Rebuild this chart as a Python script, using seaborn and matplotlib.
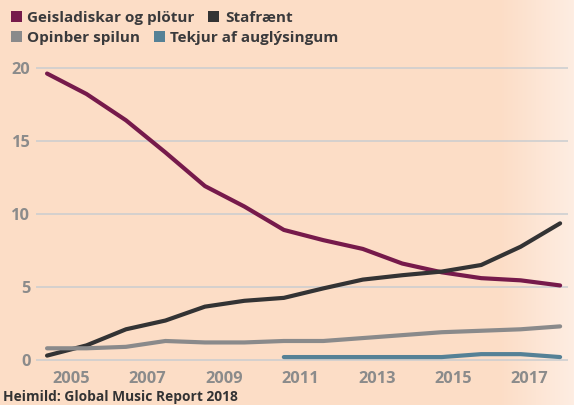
import numpy as np
import pandas as pd
import seaborn as sns
import matplotlib.pyplot as plt
from matplotlib.patches import Patch

# values (billion USD)
years = list(range(2004, 2018))
geisladiskar = [19.6, 18.2, 16.4, 14.2, 11.9, 10.5, 8.9, 8.2, 7.6, 6.6, 6.0, 5.6, 5.45, 5.1]
stafraent = [0.3, 1.0, 2.1, 2.7, 3.65, 4.05, 4.25, 4.9, 5.5, 5.8, 6.05, 6.5, 7.75, 9.35]
opinber = [0.8, 0.8, 0.9, 1.3, 1.2, 1.2, 1.3, 1.3, 1.5, 1.7, 1.9, 2.0, 2.1, 2.3]
tekjur = [np.nan] * 6 + [0.2, 0.2, 0.2, 0.2, 0.2, 0.4, 0.4, 0.2]

series_names = ['Geisladiskar og plötur', 'Stafrænt', 'Opinber spilun', 'Tekjur af auglýsingum']
colors = ['#761a4b', '#333334', '#8a8a8b', '#558196']
tick_labels = ['2005', '2007', '2009', '2011', '2013', '2015', '2017']
yticks = [0, 5, 10, 15, 20]

df = pd.DataFrame({'ar': years, series_names[0]: geisladiskar, series_names[1]: stafraent,
                   series_names[2]: opinber, series_names[3]: tekjur})
long = df.melt(id_vars='ar', var_name='flokkur', value_name='gildi').dropna()

sns.set_theme(style='white')
plt.rcParams['font.family'] = ['Open Sans', 'DejaVu Sans']
plt.rcParams['font.weight'] = 'bold'

bg = '#fcddc6'
fig = plt.figure(figsize=(5.74, 4.05), dpi=100, facecolor=bg)

# background with lighter right edge
bg_ax = fig.add_axes([0, 0, 1, 1], zorder=-2)
xs = np.linspace(0, 1, 574)
fade = np.clip((xs - 0.87) / 0.13, 0, 1)[None, :, None]
c0 = np.array([252, 221, 198]) / 255
c1 = np.array([254, 237, 226]) / 255
grad = c0 * (1 - fade) + c1 * fade
bg_ax.imshow(np.repeat(grad, 2, axis=0), aspect='auto', extent=[0, 1, 0, 1])
bg_ax.axis('off')

ax = fig.add_axes([36 / 574, 0.0931, 532 / 574, 0.7578])
ax.set_facecolor('none')
sns.lineplot(data=long, x='ar', y='gildi', hue='flokkur', hue_order=series_names,
             palette=colors, linewidth=3.0, ax=ax, legend=False, sort=True)
for ln in ax.lines:
    ln.set_solid_capstyle('round')
    ln.set_solid_joinstyle('round')

ax.set_xlim(2003.72, 2017.2)
ax.set_ylim(-0.5, 20.5)
ax.set_yticks(yticks)
ax.set_yticklabels([str(v) for v in yticks])
ax.set_xticks(np.linspace(2004.61, 2016.23, len(tick_labels)))
ax.set_xticklabels(tick_labels)
ax.tick_params(axis='both', length=0, labelsize=11.8, labelcolor='#8b8b8b')
ax.tick_params(axis='y', pad=4)
ax.tick_params(axis='x', pad=2.5)
for lab in ax.get_xticklabels() + ax.get_yticklabels():
    lab.set_fontweight('bold')
ax.set_xlabel('')
ax.set_ylabel('')
for sp in ax.spines.values():
    sp.set_visible(False)
for v in yticks:
    ax.axhline(v, color='#cacdd0', linewidth=1.1, zorder=0)

# legend in two flowing rows
handles = [Patch(facecolor=c, edgecolor='none') for c in colors]
leg_kw = dict(frameon=False, ncol=2, handlelength=0.72, handleheight=0.72, handletextpad=0.35,
              columnspacing=0.9, prop={'weight': 'bold', 'size': 11}, labelcolor='#3a3a3c',
              borderaxespad=0, borderpad=0)
leg1 = fig.legend(handles[:2], series_names[:2], loc='upper left',
                  bbox_to_anchor=(11 / 574, 1 - 11 / 405), **leg_kw)
leg2 = fig.legend(handles[2:], series_names[2:], loc='upper left',
                  bbox_to_anchor=(11 / 574, 1 - 31 / 405), **leg_kw)

fig.text(3 / 574, 1 - 397 / 405, 'Heimild: Global Music Report 2018', fontsize=9.9,
         fontweight='bold', color='#333334', va='center', ha='left')

fig.savefig('out.png', dpi=100, facecolor=bg)
